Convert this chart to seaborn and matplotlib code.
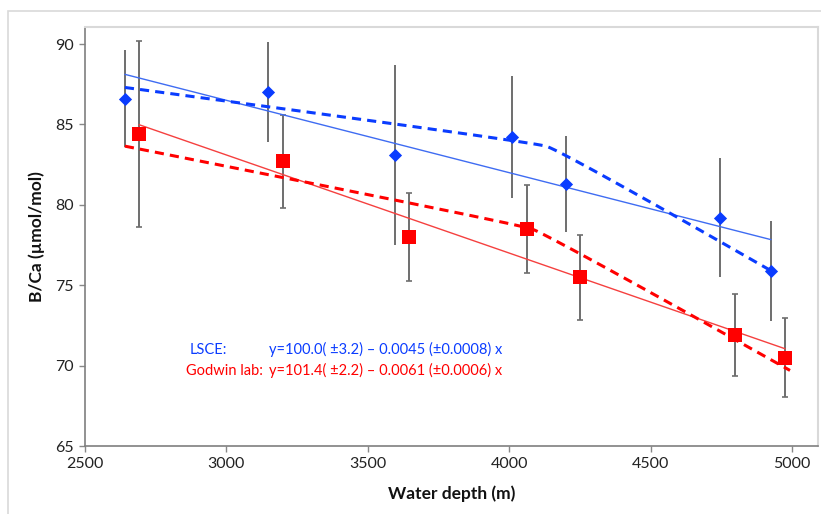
import matplotlib
matplotlib.use("Agg")
import matplotlib.pyplot as plt
import seaborn as sns
import pandas as pd
import numpy as np
from matplotlib.patches import Rectangle

# ---- data ----
lsce_depth = [2641, 3147, 3595, 4010, 4200, 4747, 4926]
lsce_bca = [86.6, 87.0, 83.1, 84.2, 81.3, 79.2, 75.9]
lsce_err = [3.0, 3.1, 5.6, 3.8, 3.0, 3.7, 3.1]

godwin_depth = [2691, 3200, 3645, 4062, 4250, 4797, 4976]
godwin_bca = [84.4, 82.7, 78.0, 78.5, 75.5, 71.9, 70.5]
godwin_err = [5.8, 2.9, 2.75, 2.75, 2.65, 2.55, 2.45]

# linear fits (intercept, slope)
lsce_fit = (100.0, -0.0045)
godwin_fit = (101.4, -0.0061)

# two-segment (dashed) curves, knots
lsce_seg_depth = [2641, 4130, 4926]
lsce_seg_bca = [87.3, 83.65, 75.9]
godwin_seg_depth = [2641, 4080, 4993]
godwin_seg_bca = [83.65, 78.5, 69.7]

x_ticks = [2500, 3000, 3500, 4000, 4500, 5000]
y_ticks = [65, 70, 75, 80, 85, 90]

lsce_label = "LSCE:"
lsce_eq = "y=100.0( \u00b13.2) \u2013 0.0045 (\u00b10.0008) x"
godwin_label = "Godwin lab:"
godwin_eq = "y=101.4( \u00b12.2) \u2013 0.0061 (\u00b10.0006) x"

BLUE = "#0a3cff"
BLUE_L = "#3f6cf2"
RED = "#ff0000"
RED_L = "#f5403f"
GRAY = "#6e6e6e"

sns.set_theme(style="white")
plt.rcParams["font.family"] = ["Lato", "DejaVu Sans"]

fig = plt.figure(figsize=(8.21, 5.14), dpi=100)
ax = fig.add_axes([85 / 821, 1 - 446 / 514, (818 - 85) / 821, (446 - 27) / 514])

# outer chart border
fig.patches.append(Rectangle((8 / 821, -0.05), 1.2, (514 - 11) / 514 + 0.05,
                             transform=fig.transFigure, fill=False,
                             edgecolor="#d9d9d9", lw=1.2, zorder=0))

def smooth(xs, ys, n=80, tens=0.08):
    # Catmull-Rom style rendering of the segment knots (like a smoothed chart line)
    xs = np.asarray(xs, float); ys = np.asarray(ys, float)
    px, py = [], []
    P = list(zip(xs, ys))
    P = [P[0]] + P + [P[-1]]
    for i in range(1, len(P) - 2):
        p0, p1, p2, p3 = map(np.array, (P[i - 1], P[i], P[i + 1], P[i + 2]))
        t = np.linspace(0, 1, n)[:, None]
        m1 = (p2 - p0) * tens
        m2 = (p3 - p1) * tens
        h00 = 2 * t**3 - 3 * t**2 + 1
        h10 = t**3 - 2 * t**2 + t
        h01 = -2 * t**3 + 3 * t**2
        h11 = t**3 - t**2
        pts = h00 * p1 + h10 * m1 + h01 * p2 + h11 * m2
        px.extend(pts[:, 0]); py.extend(pts[:, 1])
    return np.array(px), np.array(py)

# error bars
ax.errorbar(lsce_depth, lsce_bca, yerr=lsce_err, fmt="none", ecolor=GRAY,
            elinewidth=1.4, capsize=0, zorder=2)
ax.errorbar(godwin_depth, godwin_bca, yerr=godwin_err, fmt="none", ecolor=GRAY,
            elinewidth=1.4, capsize=2.5, capthick=1.2, zorder=2)

# linear fit lines
for d, (a, b), c in [(lsce_depth, lsce_fit, BLUE_L), (godwin_depth, godwin_fit, RED_L)]:
    xx = np.array([min(d), max(d)])
    sns.lineplot(x=xx, y=a + b * xx, ax=ax, color=c, lw=1.0, zorder=3)

# dashed two-segment lines
for xs, ys, c in [(lsce_seg_depth, lsce_seg_bca, BLUE), (godwin_seg_depth, godwin_seg_bca, RED)]:
    sx, sy = smooth(xs, ys)
    ax.plot(sx, sy, color=c, lw=2.2, dashes=(3, 2), zorder=3)

# markers
sns.scatterplot(x=lsce_depth, y=lsce_bca, ax=ax, marker="D", s=45, color=BLUE,
                edgecolor=BLUE, linewidth=0, zorder=4)
sns.scatterplot(x=godwin_depth, y=godwin_bca, ax=ax, marker="s", s=95, color=RED,
                edgecolor=RED, linewidth=0, zorder=4)

ax.set_xlim(2500, 5092)
ax.set_ylim(65, 91.06)
ax.set_xticks(x_ticks)
ax.set_yticks(y_ticks)
ax.tick_params(axis="both", labelsize=11.5, colors="#222222", length=4,
               width=1, direction="out", bottom=True, left=True)
ax.tick_params(axis="x", color="#888888", pad=4)
ax.tick_params(axis="y", color="#888888", pad=4)

for s in ["left", "bottom"]:
    ax.spines[s].set_color("#7f7f7f")
    ax.spines[s].set_linewidth(1.2)
for s in ["top", "right"]:
    ax.spines[s].set_color("#d9d9d9")
    ax.spines[s].set_linewidth(1.5)

ax.set_xlabel("Water depth (m)", fontsize=12.5, fontweight="bold", labelpad=10, color="#111111")
ax.set_ylabel("B/Ca (\u00b5mol/mol)", fontsize=12.5, fontweight="bold", labelpad=7, color="#111111")
ax.grid(False)

# equations
ax.text(2871, 70.98, lsce_label, color=BLUE, fontsize=10.5, ha="left", va="center")
ax.text(3152, 70.98, lsce_eq, color=BLUE, fontsize=10.5, ha="left", va="center")
ax.text(3130, 69.68, godwin_label, color=RED, fontsize=10.5, ha="right", va="center")
ax.text(3152, 69.68, godwin_eq, color=RED, fontsize=10.5, ha="left", va="center")

fig.savefig("out.png", dpi=100)
